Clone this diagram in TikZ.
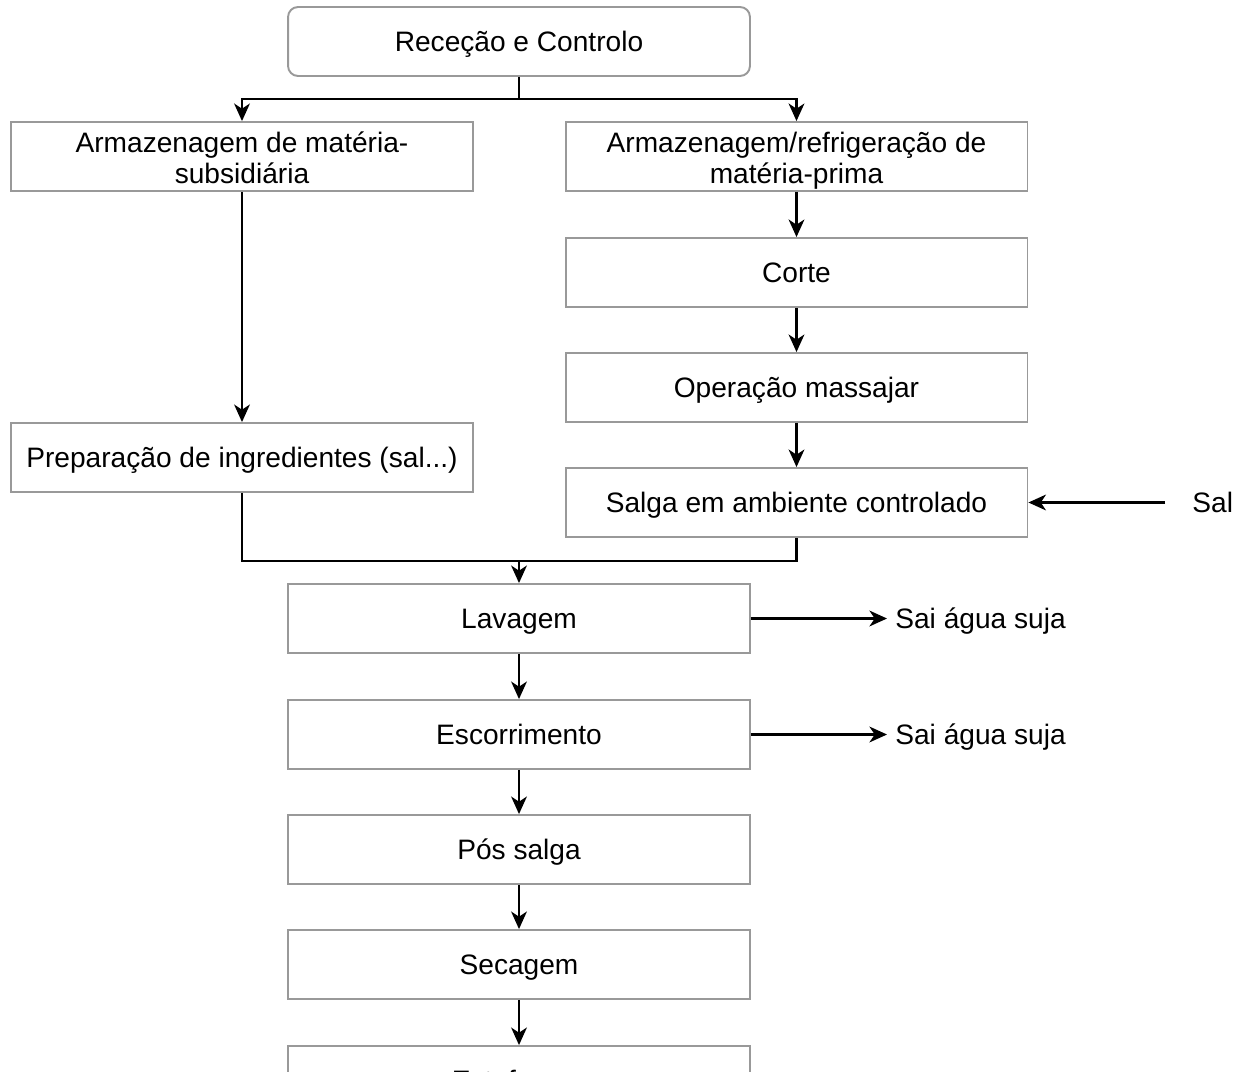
\documentclass[tikz,border=0pt]{standalone}
\usepackage{fontspec}
\setmainfont{Liberation Sans}
\usepackage{xcolor}
\usetikzlibrary{arrows.meta}

\begin{document}
\begin{tikzpicture}[
      x=0.02cm, y=-0.02cm,
      font=\fontsize{16}{18}\selectfont,
      type-step/.style={rectangle, draw=black!40, fill=white, line width=1.1pt,
        minimum width=9.24cm, minimum height=1.38cm, align=center, inner sep=0pt,
        text height=14pt, text depth=2.6pt},
      type-two/.style={type-step, text height=34pt, text depth=2.8pt},
      type-start/.style={type-step, rounded corners=0.2cm},
      type-side/.style={anchor=west, inner sep=0pt, text height=14pt, text depth=2.6pt},
      link/.style={line width=1.2pt, -{Stealth[length=10pt, width=9pt, inset=3pt]}}
    ]
      \useasboundingbox (0,0) rectangle (1236,1071);
      % process boxes
      \node[type-start] (rececao) at (519,41.5) {Receção e Controlo};
      \node[type-two] (subsid) at (242,156.5) {Armazenagem de matéria-\\subsidiária};
      \node[type-two] (prima) at (796.5,156.5) {Armazenagem/refrigeração de\\matéria-prima};
      \node[type-step] (corte) at (796.5,272.5) {Corte};
      \node[type-step] (massajar) at (796.5,387.5) {Operação massajar};
      \node[type-step] (salga) at (796.5,502.5) {Salga em ambiente controlado};
      \node[type-step] (prep) at (242,457.5) {Preparação de ingredientes (sal...)};
      \node[type-step] (lavagem) at (519,618.5) {Lavagem};
      \node[type-step] (escorr) at (519,734.5) {Escorrimento};
      \node[type-step] (possalga) at (519,849.5) {Pós salga};
      \node[type-step] (secagem) at (519,964.5) {Secagem};
      \node[type-step] (estufa) at (519,1080.5) {Estufagem};
      % side texts
      \node[type-side] (sal) at (1192,502.5) {Sal};
      \node[type-side] (agua1) at (895,618.5) {Sai água suja};
      \node[type-side] (agua2) at (895,734.5) {Sai água suja};
      \coordinate (split) at (519,99);
      \coordinate (merge) at (519,561);
      \coordinate (salend) at (1165,502.5);
      \coordinate (agua1end) at (887,618.5);
      \coordinate (agua2end) at (887,734.5);
      % connectors
      \draw[line width=1.2pt] (rececao.south) -- (split);
      \draw[link] (split) -| (subsid.north);
      \draw[link] (split) -| (prima.north);
      \draw[link] (subsid) -- (prep);
      \draw[link] (prima) -- (corte);
      \draw[link] (corte) -- (massajar);
      \draw[link] (massajar) -- (salga);
      \draw[link] (salend) -- (salga);
      \draw[line width=1.2pt] (prep.south) |- (merge) -| (salga.south);
      \draw[link] (merge) -- (lavagem);
      \draw[link] (lavagem) -- (agua1end);
      \draw[link] (escorr) -- (agua2end);
      \draw[link] (lavagem) -- (escorr);
      \draw[link] (escorr) -- (possalga);
      \draw[link] (possalga) -- (secagem);
      \draw[link] (secagem) -- (estufa);
    \end{tikzpicture}
\end{document}
